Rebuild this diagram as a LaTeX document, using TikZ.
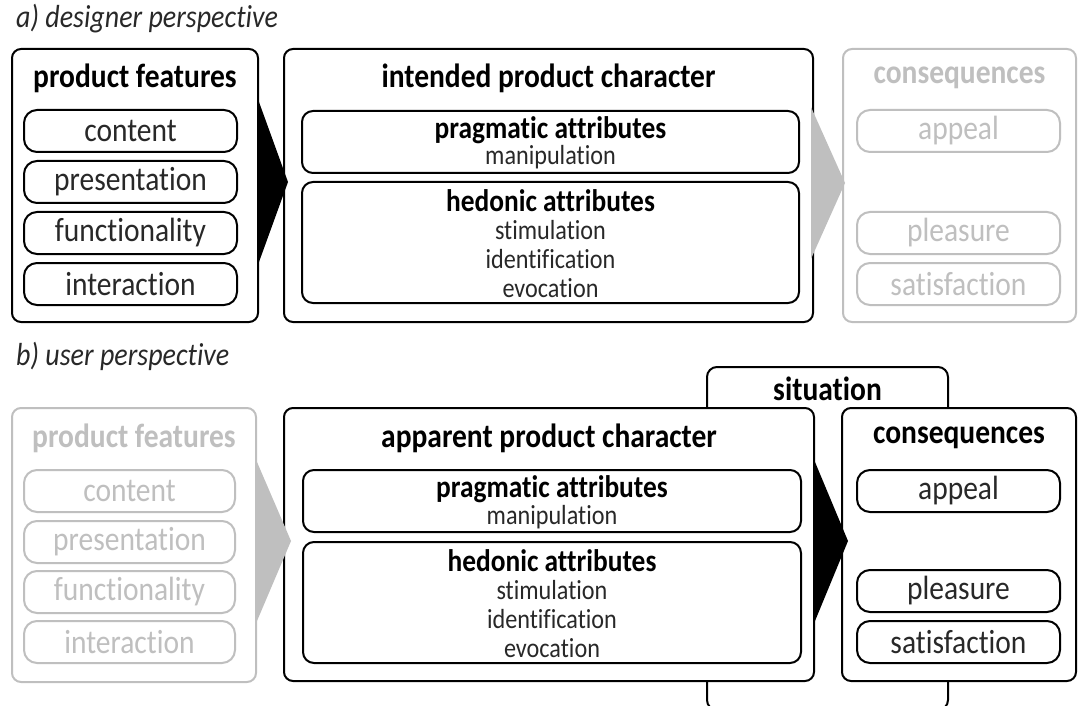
\documentclass[tikz,border=0pt]{standalone}
\usepackage{graphicx}
\usepackage{fontspec}
\setmainfont{Carlito}[Ligatures=NoCommon]
\definecolor{lite}{RGB}{191,191,191}
\definecolor{ink}{RGB}{40,40,40}
% text set slightly taller than wide
\newcommand\tall[1]{\scalebox{1}[1.14]{#1}}
\tikzset{
  frame/.style={draw, line width=2pt, rounded corners=9pt, fill=white, inner sep=0pt},
  pill/.style={draw, line width=2pt, rounded corners=13pt, fill=white, inner sep=0pt, minimum height=42pt},
  attr/.style={draw, line width=2pt, rounded corners=11pt, inner sep=0pt},
  hd/.style={font=\fontsize{29.5}{34}\selectfont\bfseries, text=black, inner sep=0pt},
  itemtxt/.style={font=\fontsize{29.5}{34}\selectfont, text=ink},
  subhd/.style={font=\fontsize{27.4}{32}\selectfont\bfseries, text=black, inner sep=0pt},
  small/.style={font=\fontsize{24.2}{29}\selectfont, text=ink, inner sep=0pt},
  lab/.style={font=\fontsize{28}{33}\selectfont\itshape, text=ink, anchor=west, inner sep=0pt},
  faded/.style={draw=lite, text=lite},
}
\begin{document}
\begin{tikzpicture}[x=1pt, y=-1pt]
\useasboundingbox (0,0) rectangle (1088,706);

% ---------- a) designer perspective ----------
\node[lab] (labA) at (16,19) {\tall{a) designer perspective}};

% product features
\node[frame, minimum width=246pt, minimum height=273pt] (pfA) at (135,185.5) {};
\node[hd] (pfAt) at (135,78) {\tall{product features}};
\node[pill, itemtxt, minimum width=213pt] (pfA1) at (130.5,131) {\tall{content}};
\node[pill, itemtxt, minimum width=213pt] (pfA2) at (130.5,182) {\tall{presentation}};
\node[pill, itemtxt, minimum width=213pt] (pfA3) at (130.5,233) {\tall{functionality}};
\node[pill, itemtxt, minimum width=213pt] (pfA4) at (130.5,284) {\tall{interaction}};

% intended product character
\node[frame, minimum width=529pt, minimum height=273pt] (ipc) at (548.5,185.5) {};
\node[hd] (ipct) at (548.5,78) {\tall{intended product character}};
\node[attr, minimum width=497pt, minimum height=62pt] (pragA) at (550.5,142) {};
\node[subhd] (pragAt) at (550.5,130) {\tall{pragmatic attributes}};
\node[small] (pragA1) at (550.5,157) {\tall{manipulation}};
\node[attr, minimum width=497pt, minimum height=121pt] (hedA) at (550.5,242.5) {};
\node[subhd] (hedAt) at (550.5,201) {\tall{hedonic attributes}};
\node[small] (hedA1) at (550.5,230) {\tall{stimulation}};
\node[small] (hedA2) at (550.5,259) {\tall{identification}};
\node[small] (hedA3) at (550.5,288) {\tall{evocation}};

% consequences (faded)
\node[frame, faded, minimum width=233pt, minimum height=273pt] (consA) at (959.5,185.5) {};
\node[hd, text=lite] (consAt) at (959.5,78) {\tall{consequences}};
\node[pill, itemtxt, faded, minimum width=203pt] (consA1) at (958.5,131) {\tall{appeal}};
\node[pill, itemtxt, faded, minimum width=203pt] (consA2) at (958.5,233) {\tall{pleasure}};
\node[pill, itemtxt, faded, minimum width=203pt] (consA3) at (958.5,284) {\tall{satisfaction}};

% flow arrows
\fill[black] (pfA.east |- 0,102) -- (288,182) -- (pfA.east |- 0,262) -- cycle;
\fill[lite] (811,107) -- (845,183) -- (811,259) -- cycle;

% ---------- b) user perspective ----------
\node[lab] (labB) at (16,356) {\tall{b) user perspective}};

% situation tab behind the boxes
\node[frame, minimum width=241pt, minimum height=343pt, rounded corners=10pt] (sit) at (827.5,538.5) {};
\node[hd] (sitt) at (827.5,389) {\tall{situation}};

% product features (faded)
\node[frame, faded, minimum width=244pt, minimum height=274pt] (pfB) at (134,545) {};
\node[hd, text=lite] (pfBt) at (134,438) {\tall{product features}};
\node[pill, itemtxt, faded, minimum width=211pt] (pfB1) at (129.5,491) {\tall{content}};
\node[pill, itemtxt, faded, minimum width=211pt] (pfB2) at (129.5,542) {\tall{presentation}};
\node[pill, itemtxt, faded, minimum width=211pt] (pfB3) at (129.5,592) {\tall{functionality}};
\node[pill, itemtxt, faded, minimum width=211pt] (pfB4) at (129.5,642) {\tall{interaction}};

% apparent product character
\node[frame, minimum width=530pt, minimum height=273pt] (apc) at (549,544.5) {};
\node[hd] (apct) at (549,438) {\tall{apparent product character}};
\node[attr, minimum width=498pt, minimum height=62pt] (pragB) at (552,501) {};
\node[subhd] (pragBt) at (552,489) {\tall{pragmatic attributes}};
\node[small] (pragB1) at (552,517) {\tall{manipulation}};
\node[attr, minimum width=498pt, minimum height=121pt] (hedB) at (552,602.5) {};
\node[subhd] (hedBt) at (552,561) {\tall{hedonic attributes}};
\node[small] (hedB1) at (552,590) {\tall{stimulation}};
\node[small] (hedB2) at (552,619) {\tall{identification}};
\node[small] (hedB3) at (552,648) {\tall{evocation}};

% consequences
\node[frame, minimum width=234pt, minimum height=273pt] (consB) at (959,544.5) {};
\node[hd] (consBt) at (959,438) {\tall{consequences}};
\node[pill, itemtxt, minimum width=203pt] (consB1) at (958.5,491) {\tall{appeal}};
\node[pill, itemtxt, minimum width=203pt] (consB2) at (958.5,591) {\tall{pleasure}};
\node[pill, itemtxt, minimum width=203pt] (consB3) at (958.5,642) {\tall{satisfaction}};

% flow arrows
\fill[lite] (pfB.east |- 0,462) -- (291,541) -- (pfB.east |- 0,621) -- cycle;
\fill[black] (apc.east |- 0,462) -- (848,541) -- (apc.east |- 0,621) -- cycle;
\end{tikzpicture}
\end{document}
